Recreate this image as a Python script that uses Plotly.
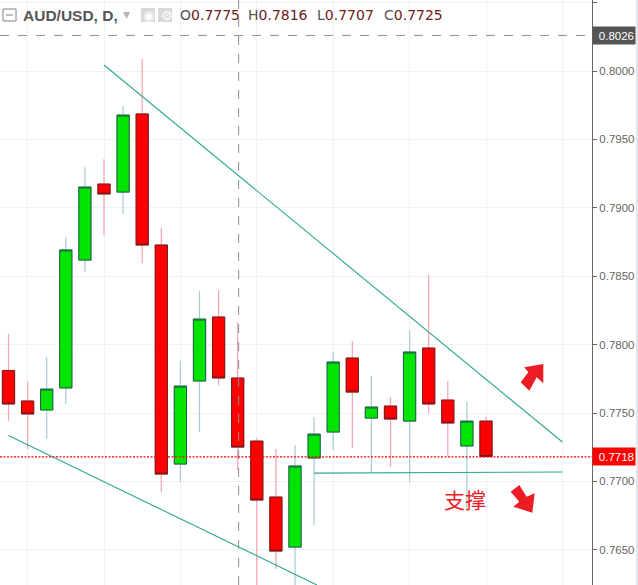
import plotly.graph_objects as go

W, H = 638, 585
PLOT_W = 592

candle_index = list(range(26))
opens = [.77811, .77588, .77522, .77683, .78618, .79174, .79115, .79686, .78728, .77127, .77734, .78202, .77756, .77295, .76886, .76520,
         .77171, .77361, .77902, .77463, .77551, .77441, .77975, .77595, .77259, .77441]
closes = [.77566, .77493, .77675, .78692, .79152, .79101, .79678, .78728, .77054, .77697, .78187, .77756, .77251, .76864, .76491, .77113,
          .77346, .77873, .77653, .77544, .77456, .77946, .77566, .77427, .77441, .77182]
highs = [.78077, .77727, .77909, .78787, .79298, .79357, .79744, .80088, .78852, .77880, .78392, .78399, .78165, .77317, .77237, .77266,
         .77471, .77946, .78026, .77770, .77617, .78107, .78509, .77734, .77580, .77471]
lows = [.77441, .77237, .77310, .77566, .78531, .78801, .78955, .78596, .76922, .76996, .77361, .77705, .77083, .76200, .76360, .76200,
        .76681, .77230, .77244, .77069, .77105, .76996, .77500, .77186, .76791, .77182]

trend_down_x = [5, 29]
trend_down_y = [.80044, .77288]
trend_low_x = [0, 16.15]
trend_low_y = [.77336, .76243]
support_x = [16, 29]
support_y = [.77061, .77069]

tick_values = [.7650, .7700, .7750, .7800, .7850, .7900, .7950, .8000, .8050]
grid_candles = [1, 5, 9, 13, 17, 21, 25, 29]
last_price = 0.7718
cross_price = 0.8026
cross_candle = 12.05

UP, DOWN = "#00e400", "#ff0000"
UP_EDGE, DOWN_EDGE = "#1f5c46", "#6e1a1c"
UP_WICK, DOWN_WICK = "#a5cdd0", "#f5a3ae"
TREND = "#2ea892"
MARK = "#ed1c24"

fig = go.Figure()
fig.add_trace(go.Candlestick(
    x=candle_index, open=opens, high=highs, low=lows, close=closes,
    whiskerwidth=0, hoverinfo="skip", showlegend=False,
    increasing=dict(line=dict(color=UP_WICK, width=1.2), fillcolor=UP),
    decreasing=dict(line=dict(color=DOWN_WICK, width=1.2), fillcolor=DOWN),
))
fig.add_trace(go.Candlestick(
    x=candle_index, open=opens, close=closes,
    high=[max(a, b) for a, b in zip(opens, closes)],
    low=[min(a, b) for a, b in zip(opens, closes)],
    whiskerwidth=0, hoverinfo="skip", showlegend=False,
    increasing=dict(line=dict(color=UP_EDGE, width=1), fillcolor=UP),
    decreasing=dict(line=dict(color=DOWN_EDGE, width=1), fillcolor=DOWN),
))
for xs, ys in [(trend_down_x, trend_down_y), (trend_low_x, trend_low_y), (support_x, support_y)]:
    fig.add_trace(go.Scatter(x=xs, y=ys, mode="lines", hoverinfo="skip", showlegend=False,
                             line=dict(color=TREND, width=1.1)))


def px(x):
    return x / PLOT_W


def py(y):
    return 1 - y / H


def poly(points):
    return "M" + " L".join(f"{px(a):.5f},{py(b):.5f}" for a, b in points) + " Z"


shapes = [
    dict(type="line", xref="paper", yref="y", x0=0, x1=1, y0=cross_price, y1=cross_price,
         line=dict(color="#8f8f8f", width=1, dash="dash")),
    dict(type="line", xref="x", yref="paper", x0=cross_candle, x1=cross_candle, y0=0, y1=1,
         line=dict(color="#8f8f8f", width=1, dash="dash")),
    dict(type="line", xref="paper", yref="y", x0=0, x1=1, y0=last_price, y1=last_price,
         line=dict(color="#ff0000", width=1.3, dash="2px,1.5px")),
    dict(type="path", xref="paper", yref="paper", fillcolor=MARK, line=dict(width=0),
         path=poly([(543.3, 364), (524.3, 367.3), (528.3, 372.3), (520.7, 382.3), (529.3, 390.7),
                    (536.7, 377.3), (543.3, 383.3)])),
    dict(type="path", xref="paper", yref="paper", fillcolor=MARK, line=dict(width=0),
         path=poly([(510.7, 491.7), (519.3, 485), (526.7, 496.7), (534.7, 493.3), (532.3, 512.7),
                    (513.3, 506.7), (519.3, 501.7)])),
    dict(type="rect", xref="paper", yref="paper", x0=px(3), x1=px(16), y0=py(21), y1=py(9),
         line=dict(color="#808080", width=1), fillcolor="rgba(255,255,255,0)"),
    dict(type="line", xref="paper", yref="paper", x0=px(6), x1=px(13), y0=py(15), y1=py(15),
         line=dict(color="#808080", width=1)),
    dict(type="rect", xref="paper", yref="paper", x0=px(141), x1=px(155), y0=py(22), y1=py(8),
         line=dict(width=0), fillcolor="#d9d9d9"),
    dict(type="rect", xref="paper", yref="paper", x0=px(158), x1=px(172), y0=py(22), y1=py(8),
         line=dict(width=0), fillcolor="#d9d9d9"),
    dict(type="rect", xref="paper", yref="paper", x0=px(636), x1=px(638), y0=0, y1=1,
         line=dict(width=0), fillcolor="#dfe6ee"),
]


def label(x, y, text, size=14, color="#555555", family="Liberation Sans", **extra):
    return dict(xref="paper", yref="paper", x=px(x), y=py(y), text=text, showarrow=False,
                xanchor="left", yanchor="middle", font=dict(size=size, color=color, family=family),
                **extra)


def ohlc(letter, value):
    return f'{letter}<span style="color:#6e2020">{value}</span>'


annotations = [
    label(21, 15, "<b>AUD/USD, D,</b>", size=15.5),
    label(121, 14, "▾", size=14, color="#b5b5b5"),
    label(141, 15, "◉", size=13, color="#ffffff", family="DejaVu Sans"),
    label(158.5, 15, "⚙", size=13, color="#ffffff", family="DejaVu Sans"),
    label(178, 15, ohlc("O", "0.7775"), size=14, family="DejaVu Sans"),
    label(246, 15, ohlc("H", "0.7816"), size=14, family="DejaVu Sans"),
    label(315, 15, ohlc("L", "0.7707"), size=14, family="DejaVu Sans"),
    label(382, 15, ohlc("C", "0.7725"), size=14, family="DejaVu Sans"),
    label(442, 499, "支撑", size=21, color=MARK, family="Noto Sans CJK SC"),
    dict(xref="paper", yref="y", x=px(592), y=cross_price, text=f"{cross_price:.4f}", showarrow=False,
         xanchor="left", yanchor="middle", bgcolor="#555555", width=40, height=15, align="right",
         font=dict(size=11.5, color="#ffffff", family="Liberation Sans")),
    dict(xref="paper", yref="y", x=px(592), y=last_price, text=f"{last_price:.4f}", showarrow=False,
         xanchor="left", yanchor="middle", bgcolor="#ff0000", width=40, height=15, align="right",
         font=dict(size=11.5, color="#ffffff", family="Liberation Sans")),
]

fig.update_layout(
    width=W, height=H, autosize=False,
    margin=dict(l=0, r=W - PLOT_W, t=0, b=0),
    paper_bgcolor="#ffffff", plot_bgcolor="#ffffff",
    boxgap=0.36, boxgroupgap=0,
    showlegend=False,
    shapes=shapes,
    annotations=annotations,
    xaxis=dict(range=[-0.445, 30.55], tickvals=grid_candles, showticklabels=False, ticks="",
               showgrid=True, gridcolor="#f0f2f4", gridwidth=1, zeroline=False,
               rangeslider=dict(visible=False), showline=False),
    yaxis=dict(range=[0.76243, 0.80519], side="right", tickvals=tick_values, tickformat=".4f",
               showgrid=True, gridcolor="#f0f2f4", gridwidth=1, zeroline=False,
               showline=True, linecolor="#666666", linewidth=1, ticks="outside", ticklen=4,
               tickcolor="#666666", tickfont=dict(size=11.5, color="#666666", family="Liberation Sans")),
)

fig.write_html("out.html", config=dict(displayModeBar=False),
               post_script="document.body.style.margin='0';")
